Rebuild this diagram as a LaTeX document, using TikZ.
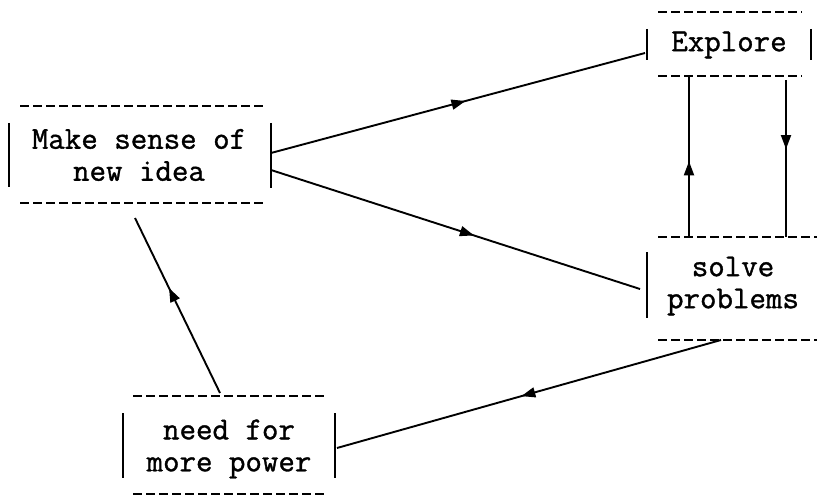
\documentclass[tikz,border=0pt]{standalone}
\usepackage{fontspec}
\newfontfamily\twfont{Latin Modern Mono}[FakeBold=1.1]
\usetikzlibrary{decorations.markings,arrows.meta}
\begin{document}
\begin{tikzpicture}[x=1pt,y=-1pt,
  dashrule/.style={line width=2.4pt, dash pattern=on 9pt off 4pt},
  sidebar/.style={line width=2pt},
  conn/.style={line width=1.9pt, postaction={decorate},
    decoration={markings, mark=at position #1 with {\arrow{Triangle[length=14pt,width=10pt]}}}},
  boxtext/.style={font=\fontsize{32}{32}\selectfont\twfont, align=center, inner sep=0pt}]
\useasboundingbox (0,0) rectangle (819,497);

% text nodes
\node[boxtext] (A) at (139,155) {Make sense of\\new idea};
\node[boxtext] (E) at (729,45) {Explore};
\node[boxtext] (S) at (733,286) {solve\\problems};
\node[boxtext] (N) at (229,449) {need for\\more power};

% box A
\draw[dashrule] (20,106) -- (263,106);
\draw[dashrule] (20,203) -- (263,203);
\draw[sidebar] (9,123) -- (9,187);
\draw[sidebar] (271,123) -- (271,188);
% box Explore
\draw[dashrule] (658,12) -- (802,12);
\draw[dashrule] (658,76) -- (802,76);
\draw[sidebar] (647,29) -- (647,60);
\draw[sidebar] (811,29) -- (811,60);
% box solve
\draw[dashrule] (658,237) -- (817,237);
\draw[dashrule] (658,340) -- (817,340);
\draw[sidebar] (647,252) -- (647,318);
% box need
\draw[dashrule] (133,396) -- (327,396);
\draw[dashrule] (133,494) -- (327,494);
\draw[sidebar] (123,413) -- (123,478);
\draw[sidebar] (335,413) -- (335,478);

% connector end points
\coordinate (a1) at (271,153);
\coordinate (a2) at (271,170);
\coordinate (e1) at (645,53);
\coordinate (s1) at (640,289);
\coordinate (s2) at (721,340);
\coordinate (n1) at (337,448);
\coordinate (n2) at (220,393);
\coordinate (a3) at (135,218);
\coordinate (eu) at (689,76);
\coordinate (su) at (689,237);
\coordinate (ed) at (786,80);
\coordinate (sd) at (786,237);

\draw[conn=0.52] (a1) -- (e1);
\draw[conn=0.55] (a2) -- (s1);
\draw[conn=0.52] (s2) -- (n1);
\draw[conn=0.6] (n2) -- (a3);
\draw[conn=0.47] (su) -- (eu);
\draw[conn=0.44] (ed) -- (sd);
\end{tikzpicture}
\end{document}
